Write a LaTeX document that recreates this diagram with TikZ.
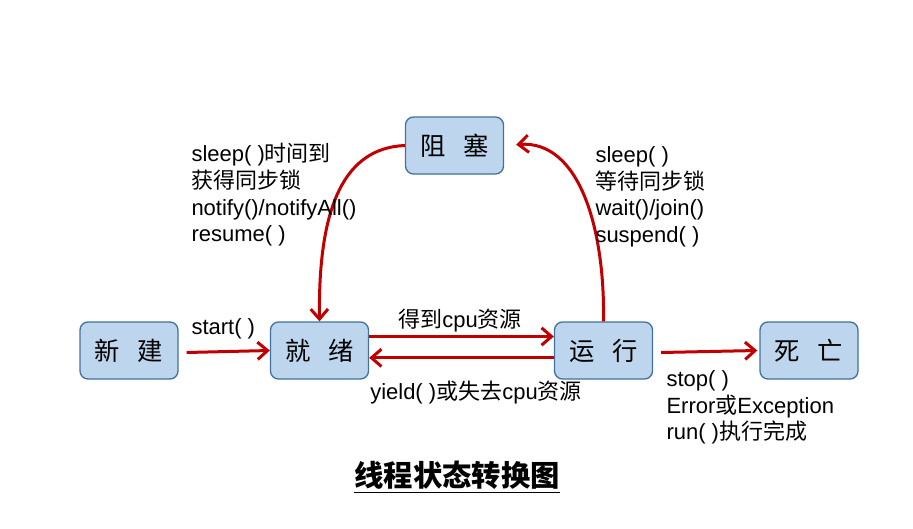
\documentclass[tikz,border=0pt]{standalone}
\usepackage{fontspec}
\setmainfont{Liberation Sans}
\newfontfamily\cjk{Noto Sans CJK SC}
\usetikzlibrary{arrows.meta}

\tikzset{every picture/.style={line width=0.75pt}}
\tikzset{
	state/.style={draw={rgb, 255:red, 65; green, 113; blue, 156 }, fill={rgb, 255:red, 189; green, 214; blue, 238 }, rounded corners=6pt, minimum width=73.5pt, minimum height=42.75pt, line width=1pt, font=\cjk\fontsize{19}{21}\selectfont},
	trans/.style={draw={rgb, 255:red, 192; green, 0; blue, 0 }, line width=2.25pt, -{Straight Barb[length=7.5pt,width=13pt]}},
	lbl/.style={font=\fontsize{16.5}{20}\selectfont, align=left, inner sep=0pt}}

\begin{document}
\begin{tikzpicture}[x=0.75pt,y=0.75pt,yscale=-1,xscale=1]
	\useasboundingbox (0,0) rectangle (913,528);

	% States
	\node [state] (new) at (129,350.5) {新\hspace{0.7em}建};
	\node [state] (ready) at (319.5,350.5) {就\hspace{0.7em}绪};
	\node [state] (running) at (603.5,350.5) {运\hspace{0.7em}行};
	\node [state] (dead) at (809,350.5) {死\hspace{0.7em}亡};
	\node [state] (blocked) at (454.5,145.5) {阻\hspace{0.7em}塞};

	% Transitions
	\draw [trans] ([xshift=6pt,yshift=1.5pt]new.east) -- (ready.west);
	\draw [trans] ([yshift=-10.5pt]ready.east) -- ([yshift=-10.5pt]running.west);
	\draw [trans] ([yshift=5.5pt]running.west) -- ([yshift=5.5pt]ready.east);
	\draw [trans] ([xshift=6pt,yshift=1.5pt]running.east) -- ([xshift=-1.5pt]dead.west);
	\draw [trans] (blocked.west) .. controls (345,148) and (318,205) .. (ready.north);
	\draw [trans, shorten >=9pt] (running.north) .. controls (605,230) and (580,140) .. (blocked.east);

	% Text Node
	\node [lbl, anchor=west] (lstart) at (191,329) {start( )};
	% Text Node
	\node [lbl, anchor=center] (lget) at (460,321) {{\cjk 得到}cpu{\cjk 资源}};
	% Text Node
	\node [lbl, anchor=center] (lyield) at (476,393) {yield( ){\cjk 或失去}cpu{\cjk 资源}};
	% Text Node
	\node [lbl, anchor=north west] (lwake) at (191,143) {sleep( ){\cjk 时间到}\\{\cjk 获得同步锁}\\notify()/notifyAll()\\resume( )};
	% Text Node
	\node [lbl, anchor=north west] (lblock) at (595,146) {sleep( )\\{\cjk 等待同步锁}\\wait()/join()\\suspend( )};
	% Text Node
	\node [lbl, anchor=north west] (lstop) at (666,370) {stop( )\\Error{\cjk 或}Exception\\run( ){\cjk 执行完成}};
	% Text Node
	\node [font=\cjk\bfseries\fontsize{22}{24}\selectfont] (title) at (457,477) {\underline{线程状态转换图}};

\end{tikzpicture}
\end{document}
